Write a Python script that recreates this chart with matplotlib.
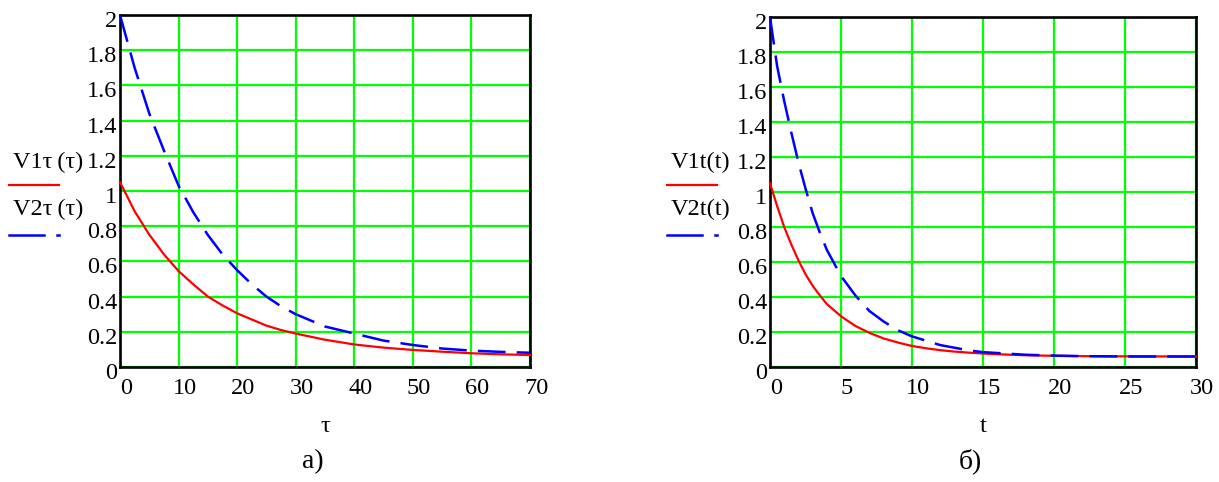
import matplotlib
matplotlib.use('Agg')
import matplotlib.pyplot as plt
import matplotlib.transforms as mtransforms
from matplotlib.lines import Line2D

plt.rcParams['font.family'] = ['Liberation Serif', 'DejaVu Serif']
plt.rcParams['lines.scale_dashes'] = False

# panel a) : values
tau = [0, 2.5, 5, 7.5, 10, 12.5, 15, 17.5, 20, 22.5, 25, 27.5, 30, 35, 40, 45, 50, 55, 60, 65, 70]
v1_tau = [1.05, 0.885, 0.752, 0.64, 0.545, 0.47, 0.40, 0.35, 0.305, 0.27, 0.235, 0.21, 0.19,
          0.155, 0.128, 0.11, 0.097, 0.087, 0.078, 0.072, 0.068]
v2_tau = [2.0, 1.70, 1.44, 1.23, 1.03, 0.88, 0.75, 0.64, 0.55, 0.47, 0.40, 0.345, 0.30,
          0.23, 0.19, 0.15, 0.125, 0.105, 0.093, 0.086, 0.081]

# panel б)
t = [0, 0.5, 1, 1.5, 2, 2.5, 3, 3.5, 4, 5, 6, 7, 8, 9, 10, 11, 12, 13, 14, 15, 16, 18, 20, 22, 25, 30]
v1_t = [1.05, 0.92, 0.80, 0.70, 0.61, 0.53, 0.465, 0.41, 0.36, 0.29, 0.235, 0.195, 0.163, 0.14,
        0.12, 0.107, 0.096, 0.088, 0.082, 0.077, 0.073, 0.067, 0.064, 0.062, 0.061, 0.06]
v2_t = [2.0, 1.72, 1.52, 1.34, 1.17, 1.02, 0.88, 0.77, 0.67, 0.52, 0.41, 0.32, 0.26, 0.21,
        0.175, 0.15, 0.125, 0.11, 0.095, 0.085, 0.08, 0.07, 0.065, 0.062, 0.06, 0.06]

fig = plt.figure(figsize=(12.19, 4.82), dpi=100)

GREEN = '#00ff00'
FS = 17.5
dash = (0, (20, 8))


def setup(ax, xmax, xstep, label, letter):
    ax.set_xlim(0, xmax)
    ax.set_ylim(0, 2)
    ax.set_xticks(range(0, xmax + 1, xstep))
    ax.set_yticks([i * 0.2 for i in range(11)])
    ax.set_yticklabels(['0', '0.2', '0.4', '0.6', '0.8', '1', '1.2', '1.4', '1.6', '1.8', '2'])
    ax.grid(True, color=GREEN, linewidth=1.6)
    ax.set_axisbelow(True)
    for s in ax.spines.values():
        s.set_linewidth(1.9)
        s.set_color('black')
    ax.tick_params(length=0, labelsize=FS, pad=8)
    ax.tick_params(axis='y', pad=2)
    dx = mtransforms.ScaledTranslation(6 / 100, 0, fig.dpi_scale_trans)
    for lb in ax.get_xticklabels():
        lb.set_transform(lb.get_transform() + dx)
    dy = mtransforms.ScaledTranslation(0, -4 / 100, fig.dpi_scale_trans)
    for lb in ax.get_yticklabels():
        lb.set_transform(lb.get_transform() + dy)
    ax.text(0.5, -0.17, label, transform=ax.transAxes, ha='center', va='center', fontsize=FS)
    ax.text(0.47, -0.27, letter, transform=ax.transAxes, ha='center', va='center', fontsize=20)


ax1 = fig.add_axes([120 / 1219, 1 - 367 / 482, 410 / 1219, 352 / 482])
ax1.plot(tau, v1_tau, color='red', linewidth=1.6, clip_on=False, zorder=3)
ax1.plot(tau, v2_tau, color='blue', linewidth=1.8, linestyle=dash, clip_on=False, zorder=3)
setup(ax1, 70, 10, 'τ', 'а)')

ax2 = fig.add_axes([770 / 1219, 1 - 367 / 482, 426 / 1219, 350 / 482])
ax2.plot(t, v1_t, color='red', linewidth=1.6, clip_on=False, zorder=3)
ax2.plot(t, v2_t, color='blue', linewidth=1.8, linestyle=dash, clip_on=False, zorder=3)
setup(ax2, 30, 5, 't', 'б)')

# Mathcad style legends on the left of each plot
H, W = 482, 1219


def legend(x0, names):
    fig.text((x0 + 4) / W, 1 - 162 / H, names[0], fontsize=FS, ha='left', va='center')
    fig.lines.append(Line2D([x0 / W, (x0 + 50) / W], [1 - 185 / H] * 2, color='red',
                            linewidth=1.6, transform=fig.transFigure))
    fig.text((x0 + 4) / W, 1 - 209 / H, names[1], fontsize=FS, ha='left', va='center')
    fig.lines.append(Line2D([x0 / W, (x0 + 35) / W], [1 - 235 / H] * 2, color='blue',
                            linewidth=1.8, transform=fig.transFigure))
    fig.lines.append(Line2D([(x0 + 48) / W, (x0 + 50) / W], [1 - 235 / H] * 2, color='blue',
                            linewidth=1.8, transform=fig.transFigure))


legend(9, ['V1τ\u2009(τ)', 'V2τ\u2009(τ)'])
legend(667, ['V1t(t)', 'V2t(t)'])

fig.savefig('out.png', dpi=100)
